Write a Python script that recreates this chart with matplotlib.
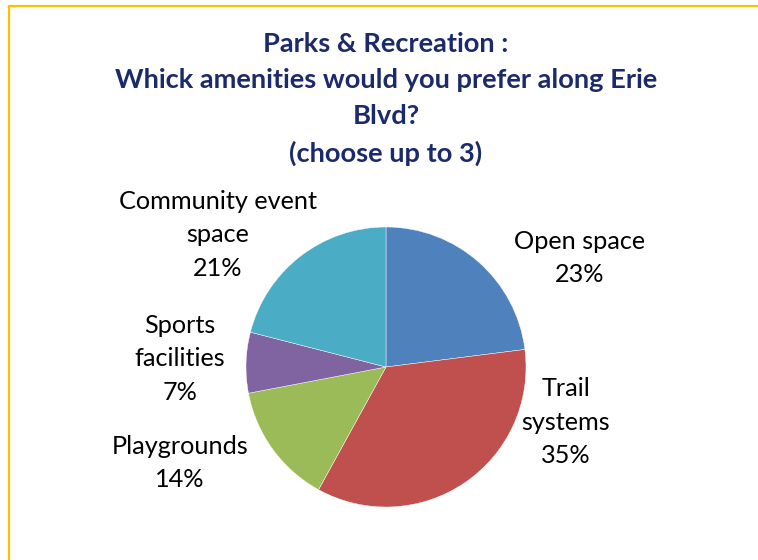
import matplotlib.pyplot as plt
from matplotlib.patches import Rectangle

# Data
categories = ['Open space', 'Trail\nsystems', 'Playgrounds', 'Sports\nfacilities', 'Community event\nspace']
shares = [23, 35, 14, 7, 21]
colors = ['#4F81BD', '#C0504D', '#9BBB59', '#8064A2', '#4BACC6']

title = 'Parks & Recreation :\nWhick amenities would you prefer along Erie\nBlvd?\n(choose up to 3)'

# label centres in pixel coords (y from top)
label_xy = [(580, 258), (566, 422), (180, 463), (180, 359), (218, 235)]

W, H = 758, 560
fig = plt.figure(figsize=(W / 100, H / 100), dpi=100)
ax = fig.add_axes([0, 0, 1, 1])

# gold chart border (right/bottom edges fall outside the picture)
ax.add_patch(Rectangle((9, -20), W + 40, H - 6 + 20, fill=False,
                       edgecolor='#FFC000', linewidth=1.6))

ax.pie(shares, colors=colors, startangle=90, counterclock=False,
       center=(386, H - 367), radius=140, frame=True,
       wedgeprops=dict(edgecolor='white', linewidth=0.3))
ax.set_xlim(0, W)
ax.set_ylim(0, H)
ax.axis('off')

for name, val, (x, y) in zip(categories, shares, label_xy):
    ax.text(x, H - y, f'{name}\n{val}%', ha='center', va='center',
            fontsize=18.2, family='Lato', linespacing=1.55)

ax.text(386, H - 99, title, ha='center', va='center', fontsize=19.6,
        fontweight='bold', family='Lato', color='#1B2A6B', linespacing=1.6)

fig.savefig('out.png', dpi=100)
